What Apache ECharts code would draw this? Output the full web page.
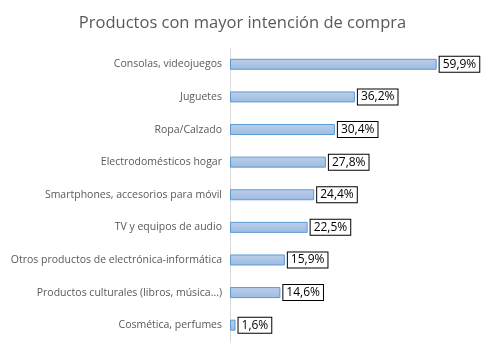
<!DOCTYPE html>
<html><head><meta charset="utf-8">
<script src="https://cdn.jsdelivr.net/npm/echarts@6/dist/echarts.min.js"></script>
<style>html,body{margin:0;padding:0;background:#fff}#c{width:485px;height:350px}</style>
</head><body><div id="c"></div>
<script>
const title = 'Productos con mayor intención de compra';
const categories = ['Consolas, videojuegos','Juguetes','Ropa/Calzado','Electrodomésticos hogar','Smartphones, accesorios para móvil','TV y equipos de audio','Otros productos de electrónica-informática','Productos culturales (libros, música...)','Cosmética, perfumes'];
const values = [59.9,36.2,30.4,27.8,24.4,22.5,15.9,14.6,1.6];

const chart = echarts.init(document.getElementById('c'));
chart.setOption({
  animation:false,
  title:{text:title,left:'center',top:10,textStyle:{fontFamily:'Open Sans',fontSize:16.5,fontWeight:'normal',color:'#595959'}},
  grid:{left:230,right:13.5,top:48,bottom:8.5,containLabel:false},
  xAxis:{type:'value',min:0,max:70,show:false},
  yAxis:{type:'category',inverse:true,data:categories,
    axisLine:{show:true,lineStyle:{color:'#d9d9d9'}},axisTick:{show:false},
    axisLabel:{color:'#595959',fontFamily:'Open Sans',fontSize:10.5,margin:8}},
  series:[{type:'bar',data:values,barWidth:11,
    itemStyle:{color:new echarts.graphic.LinearGradient(0,0,0,1,[{offset:0,color:'#bccfea'},{offset:1,color:'#9dbbe2'}]),borderColor:'#5b9bd5',borderWidth:1},
    label:{show:true,position:'right',distance:3,formatter:p=>p.value.toFixed(1).replace('.',',')+'%',
      color:'#000',fontFamily:'Open Sans',fontSize:12,backgroundColor:'#fff',borderColor:'#000',borderWidth:1,padding:[2,3,1,3]}}]
});
</script></body></html>
